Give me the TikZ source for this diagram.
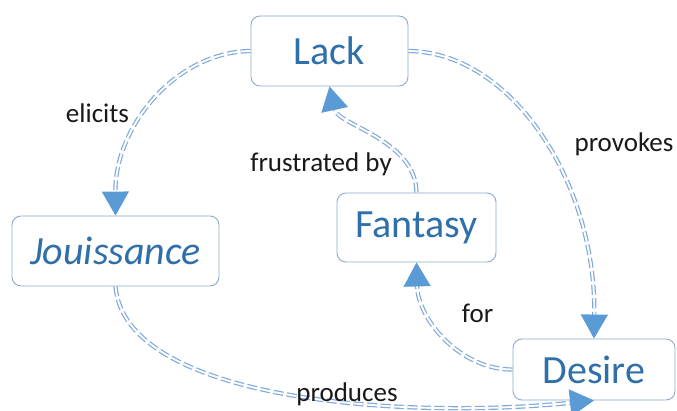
\documentclass[tikz,border=0pt]{standalone}
\usepackage{fontspec}
\setmainfont{Carlito}
\usetikzlibrary{arrows.meta}
\definecolor{boxline}{HTML}{8FAACB}
\definecolor{boxtext}{HTML}{2F6FAA}
\definecolor{linkline}{HTML}{7FA9DA}
\definecolor{tipblue}{HTML}{5B9BD5}
\begin{document}
\begin{tikzpicture}[x=1pt,y=-1pt,
  concept/.style={draw=boxline, line width=0.9pt, rounded corners=9pt, fill=white, text=boxtext, font=\fontsize{40}{48}\selectfont, inner sep=0pt},
  lbl/.style={font=\fontsize{27}{32}\selectfont, text=black!90, anchor=base},
  link/.style={draw=linkline, line width=1.2pt, double=white, double distance=1.9pt, dash pattern=on 10pt off 3.5pt, -{Triangle[length=24pt,width=27pt,color=tipblue]}}]
\useasboundingbox (0,0) rectangle (677,411);
\node[concept, minimum width=157pt, minimum height=70pt] (lack) at (329.5,51) {Lack};
\node[concept, minimum width=207pt, minimum height=70pt] (jou) at (115.5,251) {\itshape Jouissance};
\node[concept, minimum width=159pt, minimum height=69pt] (fan) at (416.5,227.5) {Fantasy};
\node[concept, minimum width=162pt, minimum height=61pt] (des) at (594,369.5) {Desire};
\draw[link] (lack.west) .. controls (176,52) and (115,126) .. (jou.north);
\draw[link] (lack.east) .. controls (511,52) and (596,181) .. (des.north);
\draw[link] (fan.north) .. controls (416,140) and (338,125) .. (lack.south);
\draw[link] (des.west) .. controls (461,370) and (418,320) .. (fan.south);
\draw[link] (jou.south) .. controls (125,400) and (400,420) .. (des.south);
\node[lbl] (l1) at (97.5,123) {elicits};
\node[lbl] (l2) at (321,172) {frustrated by};
\node[lbl] (l3) at (624,152) {provokes};
\node[lbl] (l4) at (347,401) {produces};
\node[lbl] (l5) at (477.5,323) {for};
\end{tikzpicture}
\end{document}
